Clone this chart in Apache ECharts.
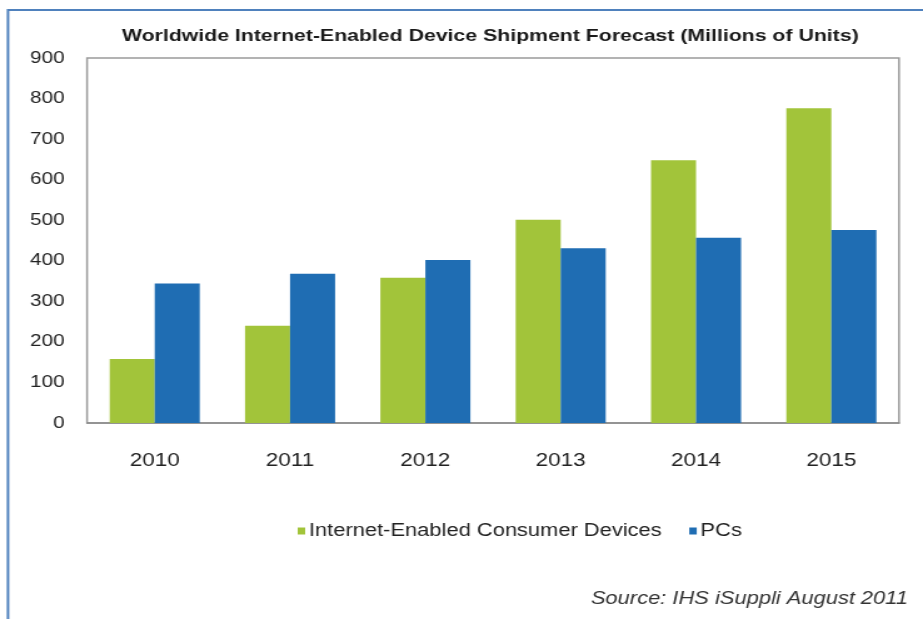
<!DOCTYPE html>
<html>
<head>
<meta charset="utf-8">
<script src="https://cdn.jsdelivr.net/npm/echarts@6/dist/echarts.min.js"></script>
<style>
  html, body { margin: 0; padding: 0; background: #fff; overflow: hidden; }
  /* the chart is laid out narrower and widened to the page width,
     which gives the horizontally stretched lettering of the graphic */
  #chart { width: 738px; height: 619px; transform: scaleX(1.2507); transform-origin: 0 0; }
</style>
</head>
<body>
<div id="chart"></div>
<script>
// Shipment forecast, millions of units
const years = ['2010', '2011', '2012', '2013', '2014', '2015'];
const consumerDevices = [158, 240, 358, 501, 648, 776];
const pcs = [344, 368, 402, 431, 457, 476];
const yTicks = [0, 100, 200, 300, 400, 500, 600, 700, 800, 900];

const FONT = '"Liberation Sans", Arial, sans-serif';
const GREEN = '#A2C43A';
const BLUE = '#1F6DB3';

const chart = echarts.init(document.getElementById('chart'), null, { renderer: 'canvas' });

chart.setOption({
  backgroundColor: '#ffffff',
  animation: false,
  title: {
    text: 'Worldwide Internet-Enabled Device Shipment Forecast (Millions of Units)',
    left: 387,
    textAlign: 'center',
    top: 23,
    textStyle: { fontFamily: FONT, fontWeight: 'bold', fontSize: 17, color: '#1a1a1a' }
  },
  legend: {
    top: 517,
    left: 233,
    itemWidth: 6,
    itemHeight: 7,
    itemGap: 22,
    icon: 'rect',
    textStyle: { fontFamily: FONT, fontSize: 17.5, color: '#222', padding: [0, 0, 0, -2] },
    data: ['Internet-Enabled Consumer Devices', 'PCs']
  },
  grid: {
    left: 69.6,
    top: 58,
    width: 649.2,
    height: 365,
    show: true,
    borderColor: '#9a9a9a',
    borderWidth: 1.5,
    backgroundColor: 'transparent'
  },
  xAxis: {
    type: 'category',
    data: years,
    axisLine: { lineStyle: { color: '#8a8a8a', width: 1.5 } },
    axisTick: { show: false },
    axisLabel: { fontFamily: FONT, fontSize: 18, color: '#222', margin: 29 }
  },
  yAxis: {
    type: 'value',
    min: yTicks[0],
    max: yTicks[yTicks.length - 1],
    interval: 100,
    splitLine: { show: false },
    axisLine: { show: false },
    axisTick: { show: false },
    axisLabel: { fontFamily: FONT, fontSize: 16.5, color: '#222', margin: 18 }
  },
  series: [
    {
      name: 'Internet-Enabled Consumer Devices',
      type: 'bar',
      data: consumerDevices,
      barWidth: 36,
      barGap: '0%',
      itemStyle: { color: GREEN }
    },
    {
      name: 'PCs',
      type: 'bar',
      data: pcs,
      barWidth: 36,
      barGap: '0%',
      itemStyle: { color: BLUE }
    }
  ],
  graphic: [
    {
      type: 'polyline',
      shape: { points: [[6.4, 619], [6.4, 10], [740, 10]] },
      style: { stroke: '#4F81BD', lineWidth: 2, fill: null }
    },
    {
      type: 'text',
      right: 12,
      top: 590,
      style: {
        text: 'Source: IHS iSuppli August 2011',
        font: 'italic 17.5px "Liberation Sans", Arial, sans-serif',
        fill: '#333'
      }
    }
  ]
});
</script>
</body>
</html>
